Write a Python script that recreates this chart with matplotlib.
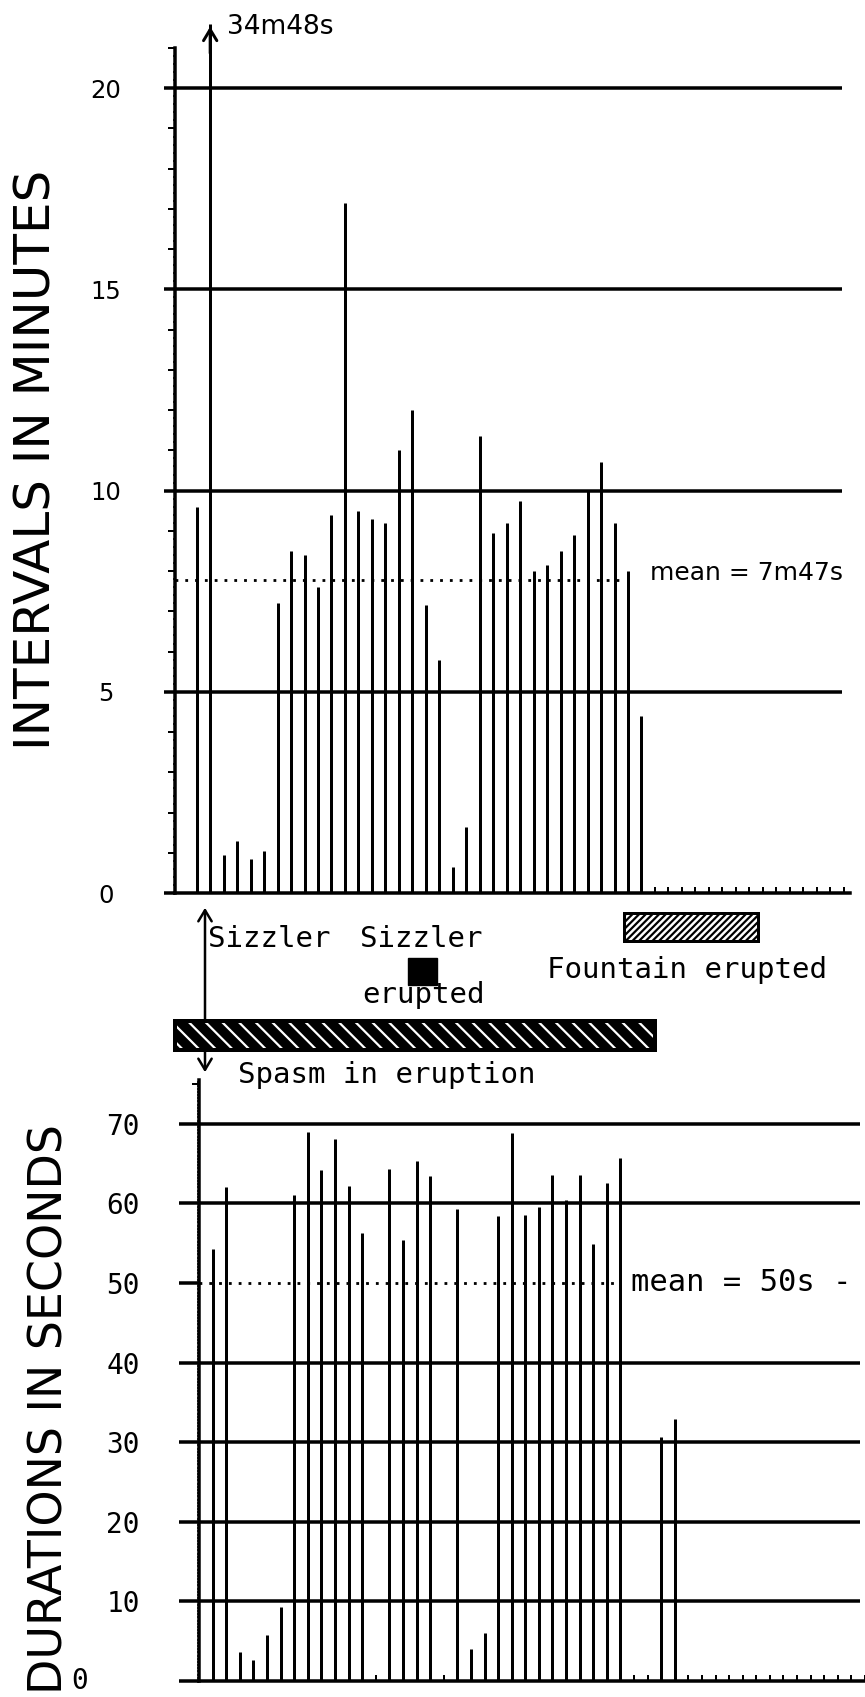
import matplotlib
matplotlib.use('Agg')
import numpy as np
import matplotlib.pyplot as plt
import matplotlib.transforms as mtransforms
from matplotlib.patches import Rectangle, FancyArrowPatch
from matplotlib.ticker import MultipleLocator

W, H = 865, 1697

# one slot per eruption, left to right
intervals_min = [9.6, 34.8, 0.95, 1.3, 0.85, 1.05, 7.2, 8.5, 8.4, 7.6, 9.4, 17.15,
                 9.5, 9.3, 9.2, 11.0, 12.0, 7.15, 5.8, 0.65, 1.65, 11.35, 8.95, 9.2,
                 9.75, 8.0, 8.15, 8.5, 8.9, 10.0, 10.7, 9.2, 8.0, 4.4]
durations_s = [54.3, 62.0, 3.7, 2.6, 5.8, 9.3, 61.0, 69.0, 64.2, 68.1, 62.2, 56.3,
               0, 64.3, 55.4, 65.3, 63.4, 0, 59.3, 4.0, 6.0, 58.4, 68.8, 58.5,
               59.5, 63.6, 60.4, 63.6, 54.9, 62.6, 65.7, 0, 0, 30.7, 32.9]
mean_interval_s = 7 * 60 + 47
mean_duration_s = 50
interval_ticks = [0, 5, 10, 15, 20]
interval_grid = [5, 10, 15, 20]
duration_ticks = [0, 10, 20, 30, 40, 50, 60, 70]
duration_grid = [10, 20, 30, 40, 60, 70]
n_slots = 49

MONO = 'DejaVu Sans Mono'
PX = 0.72  # points per pixel at dpi 100
plt.rcParams['hatch.linewidth'] = 1.6


def fx(x):
    return x / W


def fy(y):
    return 1 - y / H


def px_axes(fig, left, top, right, bottom):
    return fig.add_axes([left / W, 1 - bottom / H, (right - left) / W, (bottom - top) / H])


def style_axes(ax, major_len, label_pad, label_font, label_size, serr_step):
    for s in ['top', 'right']:
        ax.spines[s].set_visible(False)
    for s in ['left', 'bottom']:
        ax.spines[s].set_linewidth(3.5 * PX)
    ax.set_xticks(range(n_slots))
    ax.tick_params(axis='x', direction='in', length=6 * PX, width=2 * PX,
                   labelbottom=False)
    ax.tick_params(axis='y', which='major', direction='out', length=major_len * PX,
                   width=3.5 * PX, pad=label_pad * PX)
    ax.tick_params(axis='y', which='minor', direction='out', length=7 * PX, width=2 * PX)
    for lab in ax.get_yticklabels():
        lab.set_fontfamily(label_font)
        lab.set_fontsize(label_size)
    # the ruler-like serration along the y axis
    sec = ax.secondary_yaxis('left')
    sec.spines['left'].set_visible(False)
    sec.yaxis.set_major_locator(MultipleLocator(serr_step))
    sec.tick_params(axis='y', direction='out', length=2.5 * PX, width=1.5 * PX,
                    labelleft=False)


fig = plt.figure(figsize=(W / 100, H / 100), dpi=100)

# ---------------- intervals ----------------
ax1 = px_axes(fig, 175, 48, 850, 893)
ax1.set_xlim(-1.61, 48.47)
ax1.set_ylim(0, 21)
ax1.set_yticks(interval_ticks)
ax1.yaxis.set_minor_locator(MultipleLocator(1))
style_axes(ax1, 11, 58, 'DejaVu Sans', 17.5, 0.2)
plt.setp(ax1.get_yticklabels(), ha='center')

ax1.hlines(interval_grid, -1.61, 47.87, color='black', lw=3.5 * PX, zorder=2)
x1 = np.arange(len(intervals_min))
cap = 21.6
ax1.vlines(x1, 0, np.minimum(intervals_min, cap), color='black', lw=3 * PX,
           clip_on=False, zorder=3)
for xi, v in zip(x1, intervals_min):
    if v > cap:
        ax1.annotate('', xy=(xi, cap), xytext=(xi, cap - 0.8),
                     arrowprops=dict(arrowstyle='->,head_length=0.5,head_width=0.3',
                                     lw=3 * PX, color='black', mutation_scale=16),
                     annotation_clip=False)
        ax1.text(xi + 1.25, cap - 0.25, f"{int(v)}m{round((v - int(v)) * 60):02d}s",
                 fontsize=19, ha='left', va='baseline', clip_on=False)

m_min = mean_interval_s / 60
ax1.hlines(m_min, -1.61, 31.55, color='black', lw=2.8 * PX, linestyles=(0, (1, 2.5)),
           zorder=2)
ax1.text(33.6, m_min + 0.17,
         f"mean = {mean_interval_s // 60}m{mean_interval_s % 60}s",
         fontsize=18, ha='left', va='center')

# ---------------- durations ----------------
ax2 = px_axes(fig, 199, 1080, 865, 1681)
ax2.set_xlim(-1.01, 47.96)
ax2.set_ylim(0, 75.5)
ax2.set_yticks(duration_ticks)
ax2.set_yticklabels(['' if t == 0 else str(t) for t in duration_ticks])
ax2.yaxis.set_minor_locator(MultipleLocator(75))
style_axes(ax2, 20, 39, MONO, 20, 0.4)
# the zero label sits further left than the rest in the original
zero_tr = mtransforms.blended_transform_factory(fig.transFigure, ax2.transData)
ax2.text(fx(80), 0, '0', transform=zero_tr, family=MONO, fontsize=20,
         ha='center', va='center')

ax2.hlines(duration_grid, -1.01, 47.6, color='black', lw=3.5 * PX, zorder=2)
x2 = np.arange(len(durations_s))
d = np.array(durations_s)
ax2.vlines(x2[d > 0], 0, d[d > 0], color='black', lw=3 * PX, zorder=3)
ax2.hlines(mean_duration_s, -1.01, 29.94, color='black', lw=2.8 * PX,
           linestyles=(0, (1, 2.5)), zorder=2)
ax2.text(30.8, mean_duration_s, f"mean = {mean_duration_s}s -", family=MONO,
         fontsize=22, ha='left', va='center')

# ---------------- axis titles ----------------
fig.text(fx(37), fy(460), 'INTERVALS IN MINUTES', rotation=90, fontsize=36,
         ha='center', va='center')
fig.text(fx(50), fy(1409), 'DURATIONS IN SECONDS', rotation=90, fontsize=33,
         ha='center', va='center')

# ---------------- key between the panels ----------------
fig.add_artist(FancyArrowPatch((fx(205), fy(1075)), (fx(205), fy(905)),
                               transform=fig.transFigure,
                               arrowstyle='<->,head_length=0.5,head_width=0.3',
                               mutation_scale=16, lw=2.5 * PX, color='black', zorder=2))
fig.text(fx(208), fy(947), 'Sizzler', family=MONO, fontsize=21, va='baseline')
fig.text(fx(360), fy(947), 'Sizzler', family=MONO, fontsize=21, va='baseline')
fig.add_artist(Rectangle((fx(408), fy(985)), fx(29), 27 / H,
                         transform=fig.transFigure, facecolor='black',
                         edgecolor='black'))
fig.text(fx(362), fy(1003), 'erupted', family=MONO, fontsize=21, va='baseline')

fig.add_artist(Rectangle((fx(624), fy(941)), fx(134), 28 / H,
                         transform=fig.transFigure, facecolor='white',
                         edgecolor='black', hatch='/////', lw=3 * PX))
fig.text(fx(547), fy(978), 'Fountain erupted', family=MONO, fontsize=21,
         va='baseline')

band = Rectangle((fx(175), fy(1050)), fx(480), 29 / H, transform=fig.transFigure,
                 facecolor='black', edgecolor='white', hatch='\\\\', lw=0, zorder=3)
fig.add_artist(band)
fig.add_artist(Rectangle((fx(175), fy(1050)), fx(480), 29 / H,
                         transform=fig.transFigure, facecolor='none',
                         edgecolor='black', lw=4 * PX, zorder=4))
fig.text(fx(238), fy(1083), 'Spasm in eruption', family=MONO, fontsize=21,
         va='baseline')

fig.savefig('out.png', dpi=100)
